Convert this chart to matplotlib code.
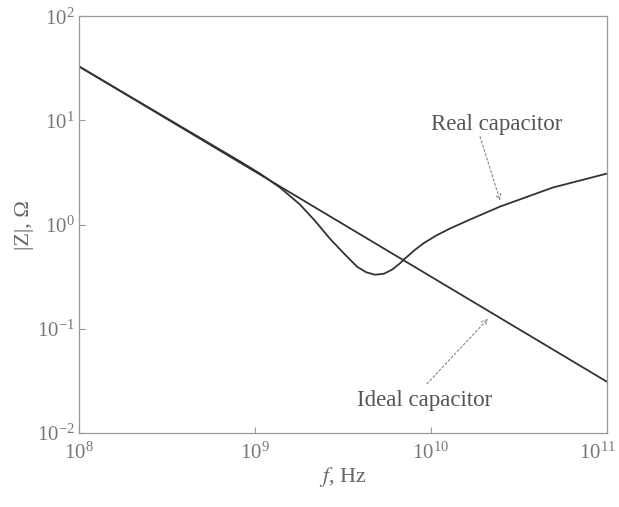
import numpy as np
import matplotlib
matplotlib.use("Agg")
import matplotlib.pyplot as plt
import matplotlib.transforms as mtransforms
from matplotlib.ticker import LogFormatterMathtext, NullLocator

plt.rcParams['font.family'] = ['Liberation Serif', 'DejaVu Serif']
plt.rcParams['mathtext.fontset'] = 'stix'

# ideal capacitor: straight line on log-log, read at the two ends
f_ideal = [1e8, 1e11]
z_ideal = [33.0, 0.031]

# real capacitor, points
f_real = [1e8, 8.22e8, 1.067e9, 1.387e9, 1.80e9, 2.19e9, 2.67e9, 3.25e9,
          3.80e9, 4.28e9, 4.81e9, 5.41e9, 6.0e9, 6.58e9, 7.11e9, 8.0e9,
          9.0e9, 1.067e10, 1.28e10, 1.67e10, 2.47e10, 4.93e10, 1e11]
z_real = [33.0, 4.04, 3.09, 2.27, 1.56, 1.09, 0.73, 0.515,
          0.395, 0.349, 0.330, 0.338, 0.369, 0.417, 0.471, 0.562,
          0.656, 0.783, 0.916, 1.12, 1.49, 2.27, 3.09]

x_ticks = [1e8, 1e9, 1e10, 1e11]
y_ticks = [1e-2, 1e-1, 1e0, 1e1, 1e2]

fig = plt.figure(figsize=(6.19, 5.07), dpi=100)
ax = fig.add_axes([0.1276, 0.146, 0.853, 0.822])

line_col = '#333333'
ax.plot(f_ideal, z_ideal, color=line_col, lw=1.3)
ax.plot(f_real, z_real, color=line_col, lw=1.3, solid_joinstyle='round')

ax.set_xscale('log')
ax.set_yscale('log')
ax.set_xlim(1e8, 1e11)
ax.set_ylim(1e-2, 1e2)
ax.set_xticks(x_ticks)
ax.set_yticks(y_ticks)
ax.xaxis.set_minor_locator(NullLocator())
ax.yaxis.set_minor_locator(NullLocator())
ax.xaxis.set_major_formatter(LogFormatterMathtext())
ax.yaxis.set_major_formatter(LogFormatterMathtext())

ax.tick_params(direction='in', length=4, width=0.8, colors='#999999',
               labelcolor='#777777', labelsize=15)
ax.tick_params(axis='x', pad=7)
ax.tick_params(axis='y', pad=3)
for s in ax.spines.values():
    s.set_color('#999999')
    s.set_linewidth(0.9)

# last x label sits on the figure edge: nudge it in a little
last = ax.get_xticklabels()[-1]
last.set_transform(last.get_transform() +
                   mtransforms.ScaledTranslation(-0.1, 0, fig.dpi_scale_trans))

ax.set_xlabel('$f$, Hz', fontsize=16, color='#666666', labelpad=1)
ax.set_ylabel('|Z|, Ω', fontsize=16, color='#666666', labelpad=2)

# annotations
arrow = dict(arrowstyle='->', color='#888888', lw=0.8, linestyle=(0, (2, 2)),
             shrinkA=0, shrinkB=0)
ax.text(2.37e10, 9.1, 'Real capacitor', fontsize=16.5, color='#555555',
        ha='center', va='center')
ax.annotate('', xy=(2.47e10, 1.70), xytext=(1.90e10, 7.0), arrowprops=arrow)
ax.text(9.25e9, 0.0204, 'Ideal capacitor', fontsize=16.5, color='#555555',
        ha='center', va='center')
ax.annotate('', xy=(2.11e10, 0.125), xytext=(9.48e9, 0.0296), arrowprops=arrow)

fig.savefig('out.png', dpi=100)
